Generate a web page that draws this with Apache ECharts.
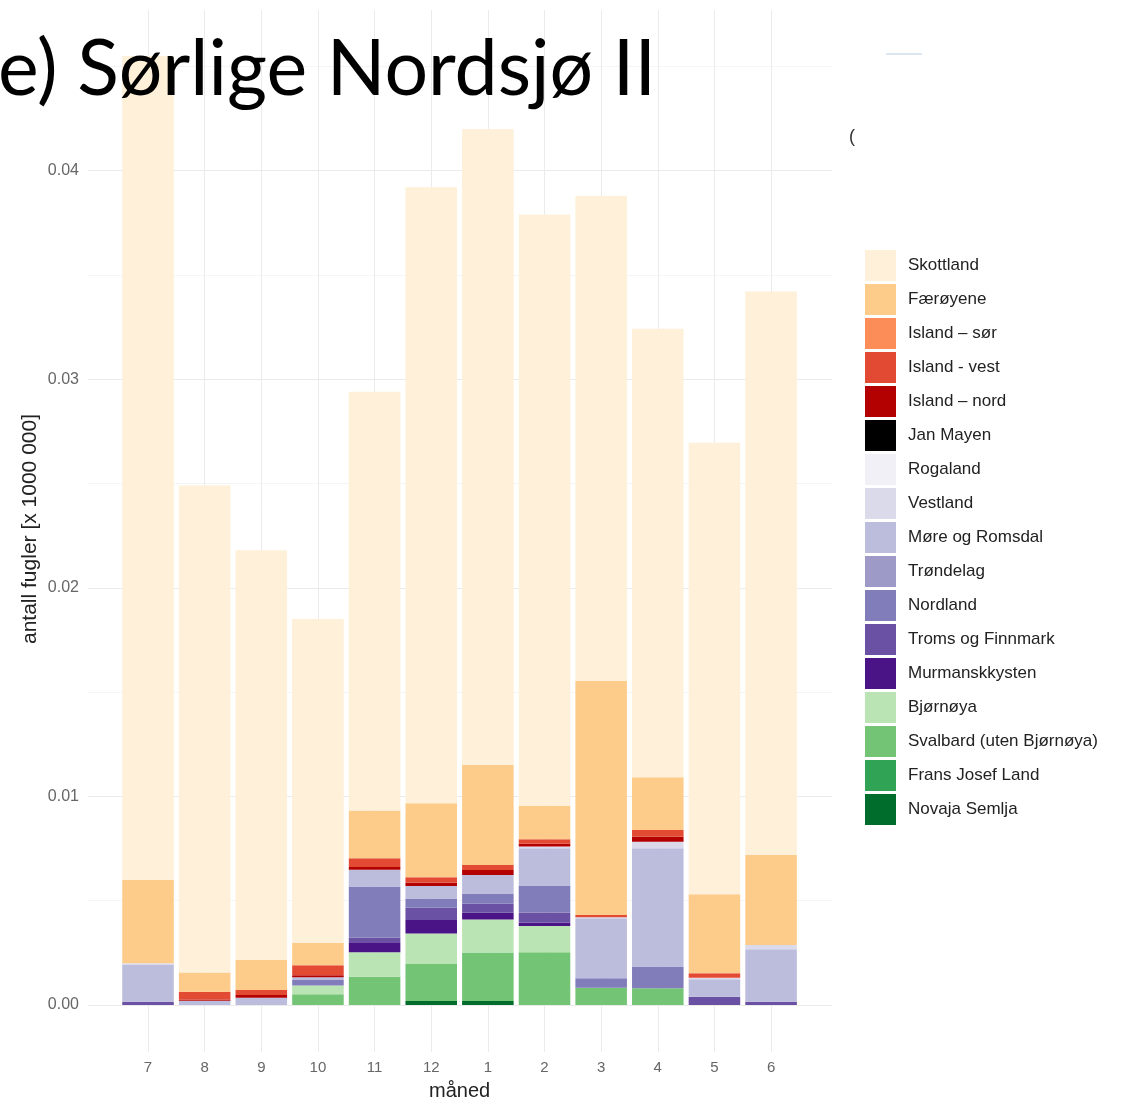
<!DOCTYPE html>
<html>
<head>
<meta charset="utf-8">
<script src="https://cdn.jsdelivr.net/npm/echarts@6/dist/echarts.min.js"></script>
<style>
html, body { margin: 0; padding: 0; background: #fff; }
#chart { width: 1122px; height: 1102px; }
</style>
</head>
<body>
<div id="chart"></div>
<script>
// month order as in the figure (July -> June)
var months = ['7', '8', '9', '10', '11', '12', '1', '2', '3', '4', '5', '6'];

// values in [x 1000 000]
var skottland  = [0.0395, 0.02334, 0.01964, 0.01552, 0.02007, 0.02953, 0.03049, 0.02835, 0.02327, 0.0215, 0.02164, 0.027];
var faeroyene  = [0.0040, 0.00093, 0.00144, 0.00107, 0.00229, 0.00355, 0.0048, 0.0016, 0.01122, 0.00253, 0.00379, 0.00432];
var islandSor  = [0, 0, 0, 0, 0, 0, 0, 0, 0, 0, 0, 0];
var islandVest = [0, 0.00037, 0.00024, 0.00048, 0.00043, 0.00026, 0.00024, 0.00022, 0.0001, 0.00032, 0.00021, 0];
var islandNord = [0, 0.00006, 0.00013, 0.0001, 0.00013, 0.00016, 0.00024, 0.00013, 0, 0.00024, 0, 0];
var janMayen   = [0, 0, 0, 0, 0, 0, 0, 0, 0, 0, 0, 0];
var rogaland   = [0, 0, 0, 0, 0, 0, 0, 0, 0, 0, 0, 0];
var vestland   = [0.00008, 0, 0, 0, 0, 0, 0, 0.00008, 0.00005, 0.00032, 0.00008, 0.00021];
var moreRomsdal = [0.00176, 0.0002, 0.00035, 0.00013, 0.0008, 0.00059, 0.00088, 0.00179, 0.00288, 0.00567, 0.00083, 0.00251];
var trondelag  = [0, 0, 0, 0, 0, 0, 0, 0, 0, 0, 0, 0];
var nordland   = [0, 0, 0, 0.00027, 0.00245, 0.00045, 0.00048, 0.0013, 0.00045, 0.00104, 0, 0];
var troms      = [0.00016, 0, 0, 0, 0.00022, 0.00059, 0.00045, 0.00048, 0, 0, 0.0004, 0.00016];
var murmansk   = [0, 0, 0, 0, 0.00048, 0.00064, 0.00032, 0.00016, 0, 0, 0, 0];
var bjornoya   = [0, 0, 0, 0.00042, 0.00117, 0.00147, 0.00158, 0.00126, 0, 0, 0, 0];
var svalbard   = [0, 0, 0, 0.00051, 0.00136, 0.00177, 0.00233, 0.00253, 0.00083, 0.0008, 0, 0];
var fransJosef = [0, 0, 0, 0, 0, 0, 0, 0, 0, 0, 0, 0];
var novaja     = [0, 0, 0, 0, 0, 0.00019, 0.00019, 0, 0, 0, 0, 0];

// legend order (top of stack first)
var regions = [
  ['Skottland', skottland, '#fef0d9'],
  ['Færøyene', faeroyene, '#fdcc8a'],
  ['Island – sør', islandSor, '#fc8d59'],
  ['Island - vest', islandVest, '#e34a33'],
  ['Island – nord', islandNord, '#b30000'],
  ['Jan Mayen', janMayen, '#000000'],
  ['Rogaland', rogaland, '#f2f0f7'],
  ['Vestland', vestland, '#dadaeb'],
  ['Møre og Romsdal', moreRomsdal, '#bcbddc'],
  ['Trøndelag', trondelag, '#9e9ac8'],
  ['Nordland', nordland, '#807dba'],
  ['Troms og Finnmark', troms, '#6a51a3'],
  ['Murmanskkysten', murmansk, '#4a1486'],
  ['Bjørnøya', bjornoya, '#bae4b3'],
  ['Svalbard (uten Bjørnøya)', svalbard, '#74c476'],
  ['Frans Josef Land', fransJosef, '#31a354'],
  ['Novaja Semlja', novaja, '#006d2c']
];

var yMax = 0.0477;
var font = 'Liberation Sans, Arial, sans-serif';

var series = regions.slice().reverse().map(function (r) {
  return {
    name: r[0],
    type: 'bar',
    stack: 'total',
    xAxisIndex: 1,
    yAxisIndex: 1,
    barCategoryGap: '9%',
    itemStyle: { color: r[2] },
    emphasis: { disabled: true },
    data: r[1]
  };
});

var chart = echarts.init(document.getElementById('chart'));
chart.setOption({
  animation: false,
  backgroundColor: '#fff',
  grid: [
    { left: 88, right: 290, top: 10, bottom: 97, outerBoundsMode: 'none' },
    { left: 119.7, right: 322.6, top: 10, bottom: 97, outerBoundsMode: 'none' }
  ],
  xAxis: [
    { type: 'value', gridIndex: 0, min: 0, max: 1, show: false },
    {
      type: 'category', gridIndex: 1, data: months,
      name: 'måned', nameLocation: 'middle', nameGap: 76,
      nameTextStyle: { fontSize: 20, color: '#222', fontFamily: font },
      axisLine: { show: false },
      axisTick: { show: true, alignWithLabel: true, length: 47, lineStyle: { color: '#ebebeb' } },
      axisLabel: { margin: 55, fontSize: 15, color: '#666', fontFamily: font },
      splitLine: { show: true, alignWithLabel: true, lineStyle: { color: '#ebebeb' } }
    }
  ],
  yAxis: [
    {
      type: 'value', gridIndex: 0, min: 0, max: yMax, interval: 0.005,
      axisLine: { show: false }, axisTick: { show: false },
      axisLabel: {
        margin: 9, fontSize: 16, color: '#666', fontFamily: font,
        formatter: function (v) {
          return Math.round(v * 1000) % 10 === 0 ? v.toFixed(2) : '';
        }
      },
      splitLine: { show: true, showMaxLine: false, lineStyle: { color: ['#ebebeb', '#f5f5f5'] } }
    },
    { type: 'value', gridIndex: 1, min: 0, max: yMax, show: false }
  ],
  legend: {
    orient: 'vertical', left: 865, top: 250, padding: 0,
    itemWidth: 31, itemHeight: 31, itemGap: 3, icon: 'rect',
    selectedMode: false,
    textStyle: { fontSize: 17, color: '#222', fontFamily: font, padding: [0, 0, 0, 7] },
    data: regions.map(function (r) { return r[0]; })
  },
  graphic: [
    {
      type: 'text', x: 30, y: 529, rotation: Math.PI / 2, z: 10,
      style: { text: 'antall fugler [x 1000 000]', fontSize: 21, fill: '#222', fontFamily: font, align: 'center', verticalAlign: 'middle' }
    },
    {
      type: 'text', x: -2, y: 70, z: 10,
      style: { text: 'e) Sørlige Nordsjø II', fontSize: 77, fill: '#000', fontFamily: 'Lato, Open Sans, sans-serif', align: 'left', verticalAlign: 'middle' }
    },
    {
      type: 'text', x: 849, y: 137, z: 10,
      style: { text: '(', fontSize: 18, fill: '#333', fontFamily: font, verticalAlign: 'middle' }
    },
    {
      type: 'line', z: 10,
      shape: { x1: 886, y1: 54, x2: 922, y2: 54 },
      style: { stroke: '#b8cde3', lineWidth: 1 }
    }
  ],
  series: series
});
</script>
</body>
</html>
